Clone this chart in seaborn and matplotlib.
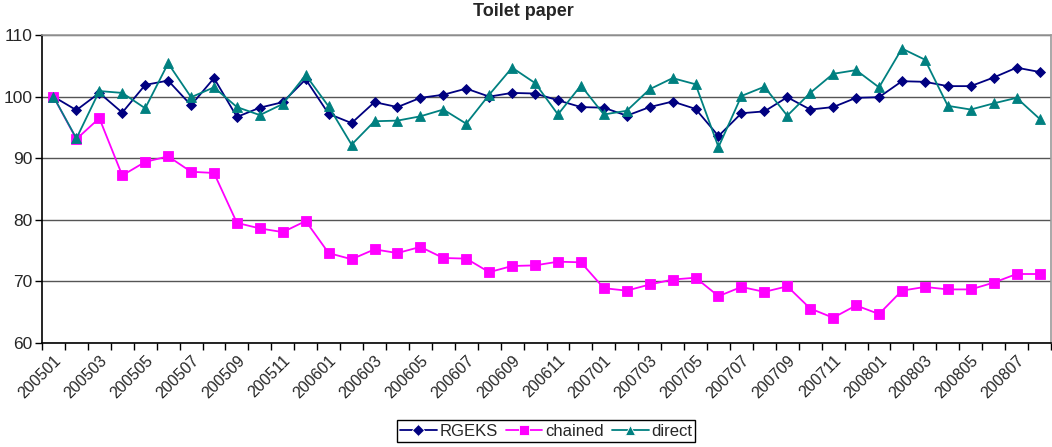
import matplotlib
matplotlib.use("Agg")
import matplotlib.pyplot as plt
import seaborn as sns
import pandas as pd
import numpy as np

# Monthly periods 2005-01 .. 2008-08
periods = [f"{y}{m:02d}" for y in range(2005, 2009) for m in range(1, 13)][:44]

rgeks = [100.0, 97.8, 100.6, 97.4, 101.9, 102.6, 98.6, 103.0, 96.7, 98.2,
         99.1, 102.8, 97.2, 95.7, 99.1, 98.3, 99.8, 100.3, 101.3, 100.0,
         100.6, 100.5, 99.4, 98.3, 98.2, 96.9, 98.3, 99.2, 98.0, 93.6,
         97.3, 97.6, 99.9, 97.9, 98.3, 99.8, 99.9, 102.5, 102.4, 101.7,
         101.7, 103.1, 104.7, 104.0]

chained = [100.0, 93.1, 96.5, 87.2, 89.4, 90.3, 87.8, 87.6, 79.5, 78.6,
           78.0, 79.8, 74.6, 73.6, 75.2, 74.6, 75.6, 73.8, 73.7, 71.5,
           72.5, 72.6, 73.2, 73.1, 68.9, 68.5, 69.5, 70.3, 70.6, 67.6,
           69.1, 68.3, 69.2, 65.6, 64.1, 66.1, 64.7, 68.5, 69.1, 68.7,
           68.7, 69.8, 71.2, 71.2]

direct = [100.0, 93.2, 100.9, 100.6, 98.1, 105.4, 99.9, 101.5, 98.3, 97.0,
          98.8, 103.5, 98.4, 92.2, 96.0, 96.1, 96.8, 97.9, 95.6, 100.3,
          104.7, 102.2, 97.1, 101.8, 97.1, 97.7, 101.2, 103.0, 102.0, 91.8,
          100.1, 101.6, 96.9, 100.6, 103.7, 104.3, 101.5, 107.8, 106.0, 98.5,
          97.9, 98.9, 99.8, 96.4]

series = {"RGEKS": rgeks, "chained": chained, "direct": direct}
frames = []
for name, vals in series.items():
    frames.append(pd.DataFrame({"idx": np.arange(len(periods)), "value": vals, "series": name}))
df = pd.concat(frames, ignore_index=True)

sns.set_theme(style="white")
plt.rcParams["font.family"] = ["Liberation Sans", "DejaVu Sans"]

fig = plt.figure(figsize=(10.52, 4.47), dpi=100)
ax = fig.add_axes([42 / 1052, 1 - 343 / 447, (1051 - 42) / 1052, (343 - 35) / 447])

palette = {"RGEKS": "#000080", "chained": "#FF00FF", "direct": "#008080"}
markers = {"RGEKS": "D", "chained": "s", "direct": "^"}
sizes = {"RGEKS": 5.5, "chained": 6.5, "direct": 7}

sns.lineplot(data=df, x="idx", y="value", hue="series", style="series",
             palette=palette, markers=markers, dashes=False, lw=1.3,
             markersize=6.5, markeredgewidth=0.6, ax=ax, legend=True)

for line, name in zip(ax.get_lines(), series.keys()):
    line.set_markersize(sizes[name])
    line.set_markeredgecolor(palette[name])

ax.set_xlim(-0.5, len(periods) - 0.5)
ax.set_ylim(60, 110)
ax.set_yticks([60, 70, 80, 90, 100, 110])
ax.yaxis.grid(True, color="#555555", lw=1.0)
ax.set_axisbelow(True)

ax.set_xticks(np.arange(0, len(periods), 2))
ax.set_xticklabels(periods[::2], rotation=45, ha="right", rotation_mode="anchor", fontsize=11.5)
ax.set_xticks(np.arange(-0.5, len(periods), 1), minor=True)
ax.tick_params(axis="x", which="major", length=0, pad=7)
ax.tick_params(axis="x", which="minor", length=5, width=1, color="black", direction="out", bottom=True)
ax.tick_params(axis="y", length=5, width=1, color="black", direction="out", left=True, labelsize=12.5, pad=2)

ax.set_xlabel("")
ax.set_ylabel("")
for side in ["left", "bottom"]:
    ax.spines[side].set_color("black")
    ax.spines[side].set_linewidth(1.2)
for side in ["top", "right"]:
    ax.spines[side].set_color("#999999")
    ax.spines[side].set_linewidth(1.2)

fig.text(523 / 1052, 1 - 12 / 447, "Toilet paper", ha="center", va="center",
         fontsize=13, fontweight="bold")

handles, labels = ax.get_legend_handles_labels()
ax.legend(handles, labels, loc="center", bbox_to_anchor=(546 / 1052, 1 - 431 / 447),
          bbox_transform=fig.transFigure, ncol=3, frameon=True, fancybox=False,
          edgecolor="black", fontsize=12, handlelength=2.2, handletextpad=0.15,
          columnspacing=0.5, borderpad=0.2, framealpha=1)
ax.get_legend().get_frame().set_linewidth(1.0)

fig.savefig("out.png", dpi=100)
